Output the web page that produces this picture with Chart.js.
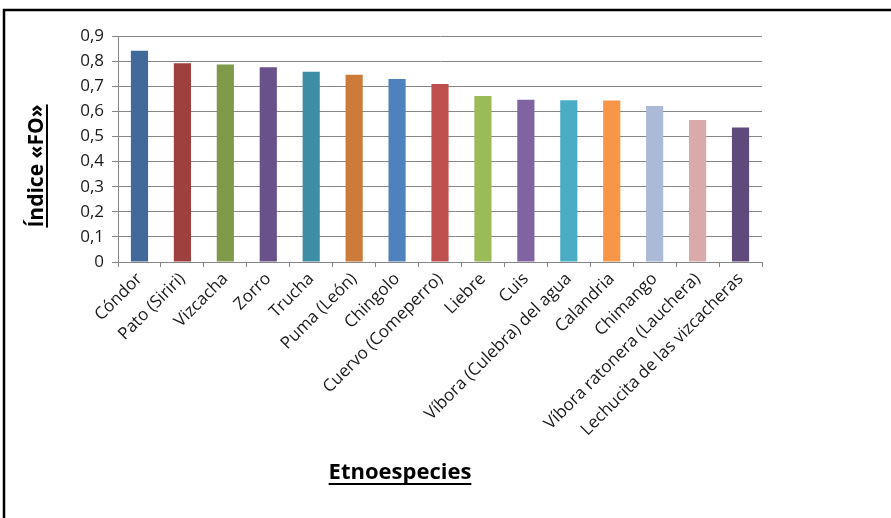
<!DOCTYPE html>
<html>
<head>
<meta charset="utf-8">
<script src="https://cdn.jsdelivr.net/npm/chart.js@4"></script>
<style>
  html, body { margin: 0; padding: 0; background: #fff; }
  #wrap { width: 891px; height: 518px; }
</style>
</head>
<body>
<div id="wrap"><canvas id="c" width="891" height="518"></canvas></div>
<script>
// Ethnospecies and their FO index
const especies = [
  'Cóndor', 'Pato (Siriri)', 'Vizcacha', 'Zorro', 'Trucha', 'Puma (León)',
  'Chingolo', 'Cuervo (Comeperro)', 'Liebre', 'Cuis', 'Víbora (Culebra) del agua',
  'Calandria', 'Chimango', 'Víbora ratonera (Lauchera)', 'Lechucita de las vizcacheras'
];
const indiceFO = [0.841, 0.791, 0.787, 0.776, 0.758, 0.746, 0.729, 0.709, 0.661, 0.646, 0.644, 0.643, 0.621, 0.565, 0.536];
const coloresBarra = [
  '#41699A', '#9E413E', '#7F9A48', '#69518A', '#3D8EA5', '#CC7B38',
  '#4F81BD', '#C0504D', '#9BBB59', '#8064A2', '#4BACC6', '#F79646',
  '#AABAD7', '#D9AAA9', '#604A7B'
];
const yMax = 0.9;
const yPaso = 0.1;

const FONT = '"Open Sans", Lato, sans-serif';

// Draws the outer frame and the underlined axis titles
const marcoYTitulos = {
  id: 'marcoYTitulos',
  afterDraw(chart) {
    const ctx = chart.ctx;
    ctx.save();
    ctx.strokeStyle = '#000';
    ctx.lineWidth = 2.5;
    ctx.strokeRect(4, 10, 900, 520);

    ctx.fillStyle = '#000';
    ctx.textBaseline = 'alphabetic';

    // Y title, rotated
    ctx.save();
    ctx.font = 'bold 21px ' + FONT;
    ctx.translate(43, 166);
    ctx.rotate(-Math.PI / 2);
    ctx.textAlign = 'center';
    const ty = 'Índice «FO»';
    ctx.fillText(ty, 0, 0);
    const wy = ctx.measureText(ty).width;
    ctx.fillRect(-wy / 2, 3, wy, 2);
    ctx.restore();

    // X title
    ctx.textAlign = 'center';
    const tx = 'Etnoespecies';
    ctx.font = 'bold 22px ' + FONT;
    ctx.fillText(tx, 400, 479);
    const wx = ctx.measureText(tx).width;
    ctx.fillRect(400 - wx / 2, 483, wx, 2);
    ctx.restore();
  }
};

new Chart(document.getElementById('c'), {
  type: 'bar',
  data: {
    labels: especies,
    datasets: [{
      data: indiceFO,
      backgroundColor: coloresBarra,
      borderWidth: 0,
      barPercentage: 0.4,
      categoryPercentage: 1.0
    }]
  },
  options: {
    responsive: false,
    animation: false,
    devicePixelRatio: 1,
    layout: { padding: { top: 36, right: 129, left: 0, bottom: 0 } },
    plugins: { legend: { display: false }, tooltip: { enabled: false } },
    scales: {
      x: {
        afterFit(scale) { scale.height = 256; },
        grid: {
          offset: true,
          drawOnChartArea: false,
          drawTicks: true,
          tickLength: 5,
          color: '#868686'
        },
        border: { color: '#868686', width: 1 },
        ticks: {
          minRotation: 45,
          maxRotation: 45,
          autoSkip: false,
          padding: 2,
          color: '#1a1a1a',
          font: { family: FONT, size: 17 }
        }
      },
      y: {
        min: 0,
        max: yMax,
        afterFit(scale) { scale.width = 118; },
        grid: { color: '#868686', tickLength: 6, lineWidth: 1 },
        border: { color: '#868686', width: 1 },
        ticks: {
          stepSize: yPaso,
          padding: 8,
          color: '#1a1a1a',
          font: { family: FONT, size: 17 },
          callback(v) {
            const r = Math.round(v * 10) / 10;
            return r === 0 ? '0' : r.toFixed(1).replace('.', ',');
          }
        }
      }
    }
  },
  plugins: [marcoYTitulos]
});
</script>
</body>
</html>
